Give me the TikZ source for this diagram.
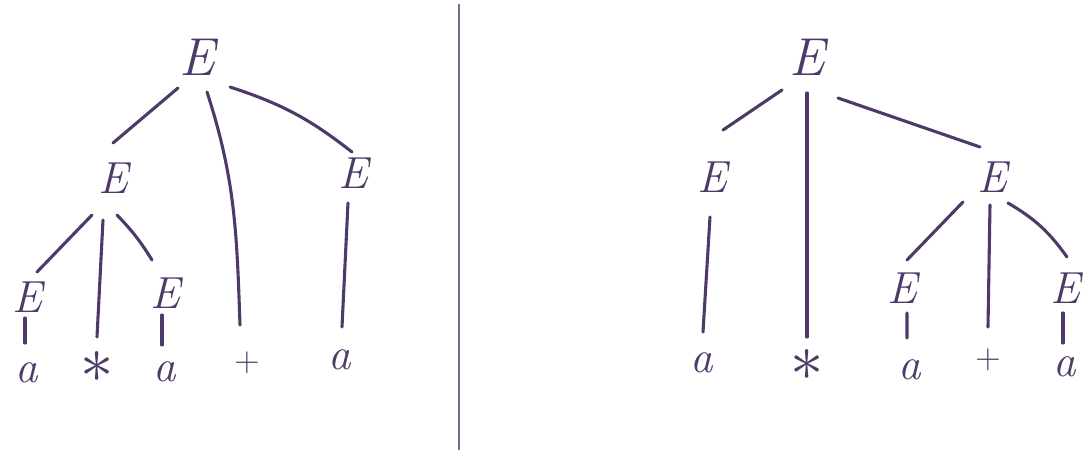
\documentclass[tikz,border=0pt]{standalone}
\usepackage{fontspec}
\usepackage{tikz}
\usetikzlibrary{positioning}
\definecolor{ink}{RGB}{78,58,104}

\begin{document}
\begin{tikzpicture}[
  sym/.style     = {inner sep=1pt, text=ink, font=\fontsize{32}{32}\selectfont\itshape},
  rootsym/.style = {sym, font=\fontsize{38}{38}\selectfont\itshape},
  opsym/.style   = {sym, font=\fontsize{24}{24}\selectfont},
  br/.style      = {draw=ink, line width=2.2pt, line cap=round},
  on grid,
]
\useasboundingbox (0,0) rectangle (27.15,-11.25);

% ── Left tree: (a*a)+a ───────────────────────────────────────────────────────
\node[rootsym] (rL) at (4.925,-1.425) {E};
\node[sym, below left =3.025cm and 2.1cm of rL]  (eL)  {E};
\node[sym, below right=2.9cm and 3.9cm of rL]    (eR)  {E};
\node[opsym, below right=7.65cm and 1.25cm of rL] (pL) {$+$};

\node[sym, below left =2.975cm and 2.15cm of eL] (eLa) {E};
\node[sym, below left=4.725cm and 0.4cm of eL]   (sL)  {\scalebox{1.9}{$\ast$}};
\node[sym, below right=2.875cm and 1.3cm of eL]  (eLb) {E};

\node[sym, below=1.9cm of eLa]                   (a1) {a};
\node[sym, below=1.975cm of eLb]                 (a2) {a};
\node[sym, below left=4.675cm and 0.325cm of eR] (a3) {a};

\draw[br] ([shift={(-0.475,-0.775)}]rL.center) -- ([shift={(0,0.875)}]eL.center);
\draw[br] ([shift={(0.25,-0.875)}]rL.center) to[out=-72,in=92] ([shift={(-0.175,0.95)}]pL.center);
\draw[br] ([shift={(0.825,-0.75)}]rL.center) to[bend left=10] ([shift={(-0.025,0.525)}]eR.center);
\draw[br] ([shift={(-0.525,-0.925)}]eL.center) -- ([shift={(0.25,0.625)}]eLa.center);
\draw[br] ([shift={(-0.25,-1.05)}]eL.center) -- ([shift={(0,0.75)}]sL.center);
\draw[br] ([shift={(0.1,-0.925)}]eL.center) to[bend left=6] ([shift={(-0.325,0.825)}]eLb.center);
\draw[br] ([shift={(-0.05,-0.525)}]eLa.center) -- ([shift={(-0.05,0.75)}]a1.center);
\draw[br] ([shift={(-0.075,-0.55)}]eLb.center) -- ([shift={(-0.075,0.675)}]a2.center);
\draw[br] ([shift={(-0.125,-0.75)}]eR.center) -- ([shift={(0.05,0.825)}]a3.center);

% ── Divider ──────────────────────────────────────────────────────────────────
\draw[ink!75, line width=1.8pt] (11.475,-0.1) -- (11.475,-11.25);

% ── Right tree: a*(a+a) ──────────────────────────────────────────────────────
\node[rootsym] (rR) at (20.175,-1.425) {E};
\node[sym, below left =3.0cm and 2.375cm of rR]  (fL) {E};
\node[sym, below=7.7cm of rR]                    (sR) {\scalebox{1.9}{$\ast$}};
\node[sym, below right=3.0cm and 4.625cm of rR]  (fR) {E};

\node[sym, below left =4.65cm and 0.25cm of fL]  (b1) {a};
\node[sym, below left =2.775cm and 2.25cm of fR] (fRa) {E};
\node[opsym, below left=4.575cm and 0.1cm of fR] (pR)  {$+$};
\node[sym, below right=2.775cm and 1.825cm of fR] (fRb) {E};

\node[sym, below right=2.05cm and 0.2cm of fRa]  (b2) {a};
\node[sym, below=1.975cm of fRb]                 (b3) {a};

\draw[br] ([shift={(-0.625,-0.825)}]rR.center) -- ([shift={(0.275,1.175)}]fL.center);
\draw[br] ([shift={(0,-0.9)}]rR.center) -- ([shift={(0,0.7)}]sR.center);
\draw[br] ([shift={(0.775,-1.025)}]rR.center) -- ([shift={(-0.3,0.75)}]fR.center);
\draw[br] ([shift={(-0.05,-1.0)}]fL.center) -- ([shift={(0.025,0.775)}]b1.center);
\draw[br] ([shift={(-0.725,-0.625)}]fR.center) -- ([shift={(0.125,0.7)}]fRa.center);
\draw[br] ([shift={(-0.05,-0.7)}]fR.center) -- ([shift={(0,0.825)}]pR.center);
\draw[br] ([shift={(0.4,-0.65)}]fR.center) to[bend left=12] ([shift={(0.05,0.775)}]fRb.center);
\draw[br] ([shift={(0.125,-0.625)}]fRa.center) -- ([shift={(-0.075,0.8)}]b2.center);
\draw[br] ([shift={(-0.05,-0.625)}]fRb.center) -- ([shift={(-0.05,0.6)}]b3.center);

\end{tikzpicture}
\end{document}
